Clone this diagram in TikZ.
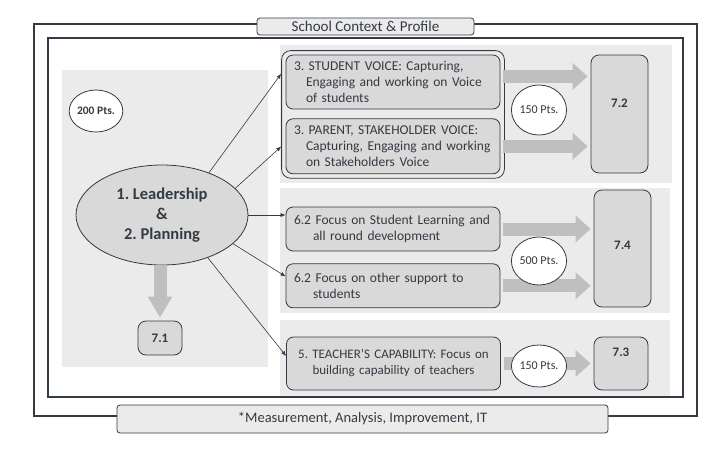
\documentclass[tikz,border=0pt]{standalone}
\usepackage{fontspec}
\setmainfont{Carlito}
\usetikzlibrary{shapes.geometric, arrows.meta}
\usetikzlibrary{positioning, fit}
\definecolor{ink}{HTML}{343A42}
\definecolor{boxgrey}{HTML}{D9D9D9}
\definecolor{panelgrey}{HTML}{EBEBEB}
\definecolor{arrowgrey}{HTML}{BFBFBF}
\newcommand{\ind}[1]{\leavevmode\hspace*{#1}}
\tikzstyle{item} = [rectangle, rounded corners=7pt, minimum width=214pt, inner xsep=8pt, text width=198pt, align=left, draw=ink, fill=boxgrey, text=ink, font=\fontsize{13.5}{16}\selectfont]
\tikzstyle{grouping} = [rectangle, rounded corners=9pt, draw=ink, inner sep=4pt]
\tikzstyle{result} = [rectangle, rounded corners=8pt, draw=ink, fill=boxgrey, text=ink, font=\fontsize{13}{15}\selectfont\bfseries]
\tikzstyle{points} = [ellipse, draw=ink, fill=white, inner sep=0pt, text=ink, font=\fontsize{12}{13}\selectfont]
\tikzstyle{leader} = [ellipse, draw=ink, fill=boxgrey, minimum width=172pt, minimum height=100pt, align=center, text=ink, font=\fontsize{16.5}{20}\selectfont\bfseries]
\tikzstyle{tab} = [rectangle, rounded corners=3pt, draw=ink, fill=panelgrey, text=ink]
\tikzstyle{arrow} = [semithick, draw=ink, -{Latex[length=5pt, width=4pt]}]
\tikzstyle{block} = [line width=13pt, draw=arrowgrey, -{Triangle[length=15pt, width=26pt]}, shorten <=3pt, shorten >=3pt]

\begin{document}
\frenchspacing
\begin{tikzpicture}[x=1pt, y=-1pt, thick]
 \useasboundingbox (0,0) rectangle (726,448);
 % frames and panels
 \draw[draw=ink, line width=1.6pt] (34,24) rectangle (697,416);
 \draw[draw=ink, line width=1.2pt] (48,38) rectangle (683,397);
 \fill[panelgrey] (62,70) rectangle (268,367);
 \fill[panelgrey] (280,45) rectangle (672,183);
 \fill[panelgrey] (280,188) rectangle (670,313);
 \fill[panelgrey] (280,320) rectangle (670,396);

 \node (context) [tab, minimum width=217pt, minimum height=17pt, inner ysep=1pt, font=\fontsize{15}{15}\selectfont] at (365.5,26.5) {School Context \& Profile};
 \node (mait) [tab, minimum width=491pt, minimum height=28pt, font=\fontsize{14.5}{16}\selectfont] at (362.5,419) {*Measurement, Analysis, Improvement, IT};

 % left side
 \node (lead) [leader] at (162,215) {1. Leadership\\\&\\2. Planning};
 \node (pts200) [points, minimum width=48pt, minimum height=42pt, font=\fontsize{11.5}{13}\selectfont\bfseries] at (96,111) {200 Pts.};
 \node (r71) [result, minimum width=44pt, minimum height=34pt] at (160,338) {7.1};

 % voice
 \node (student) [item, minimum height=54pt] at (393,82) {3. STUDENT VOICE: Capturing,\\\ind{12pt}Engaging and working on Voice\\\ind{12pt}of students};
 \node (parent) [item, below=9pt of student, minimum height=55pt] {3. PARENT, STAKEHOLDER VOICE:\\\ind{12pt}Capturing, Engaging and working\\\ind{12pt}on Stakeholders Voice};
 \node (group) [grouping, fit=(student)(parent)] {};
 \node (r72) [result, minimum width=57pt, minimum height=118pt, text depth=22pt] at (619.5,114) {7.2};

 % student learning
 \node (learning) [item, minimum height=44pt] at (393,229) {6.2 Focus on Student Learning and\\\ind{19pt}all round development};
 \node (support) [item, below=12pt of learning, minimum height=44pt] {6.2 Focus on other support to\\\ind{19pt}students};
 \node (r74) [result, minimum width=57pt, minimum height=117pt, text depth=7pt] at (622.5,248.5) {7.4};

 % teachers
 \node (teacher) [item, align=center, minimum height=53pt, font=\fontsize{13}{16}\selectfont] at (393.5,363.5) {5. TEACHER'S CAPABILITY: Focus on\\building capability of teachers};
 \node (r73) [result, minimum width=54pt, minimum height=53pt, text depth=23pt] at (621,363.5) {7.3};

 \draw [block] (student.3) -- (student.3 -| r72.west);
 \draw [block] (parent.east) -- (parent.east -| r72.west);
 \draw [block] (learning.east) -- (learning.east -| r74.west);
 \draw [block] (support.east) -- (support.east -| r74.west);
 \draw [block] (teacher.east) -- (teacher.east -| r73.west);
 \draw [block, -{Triangle[length=21pt, width=23pt]}, shorten <=0pt] (r71 |- lead.south) -- (r71.north);

 \node (pts150a) [points, minimum width=48pt, minimum height=50pt] at (539,110) {150 Pts.};
 \node (pts500) [points, minimum width=48pt, minimum height=48pt] at (539,261) {500 Pts.};
 \node (pts150b) [points, minimum width=48pt, minimum height=42pt] at (539,366) {150 Pts.};

 \draw [arrow] (lead.42) -- (group.160);
 \draw [arrow] (lead.20) -- (group.196);
 \draw [arrow] (lead.east) -- (lead.east -| learning.west);
 \draw [arrow] (lead.338) -- (support.175);
 \draw [arrow] (lead.317) -- (teacher.176);
\end{tikzpicture}
\end{document}
